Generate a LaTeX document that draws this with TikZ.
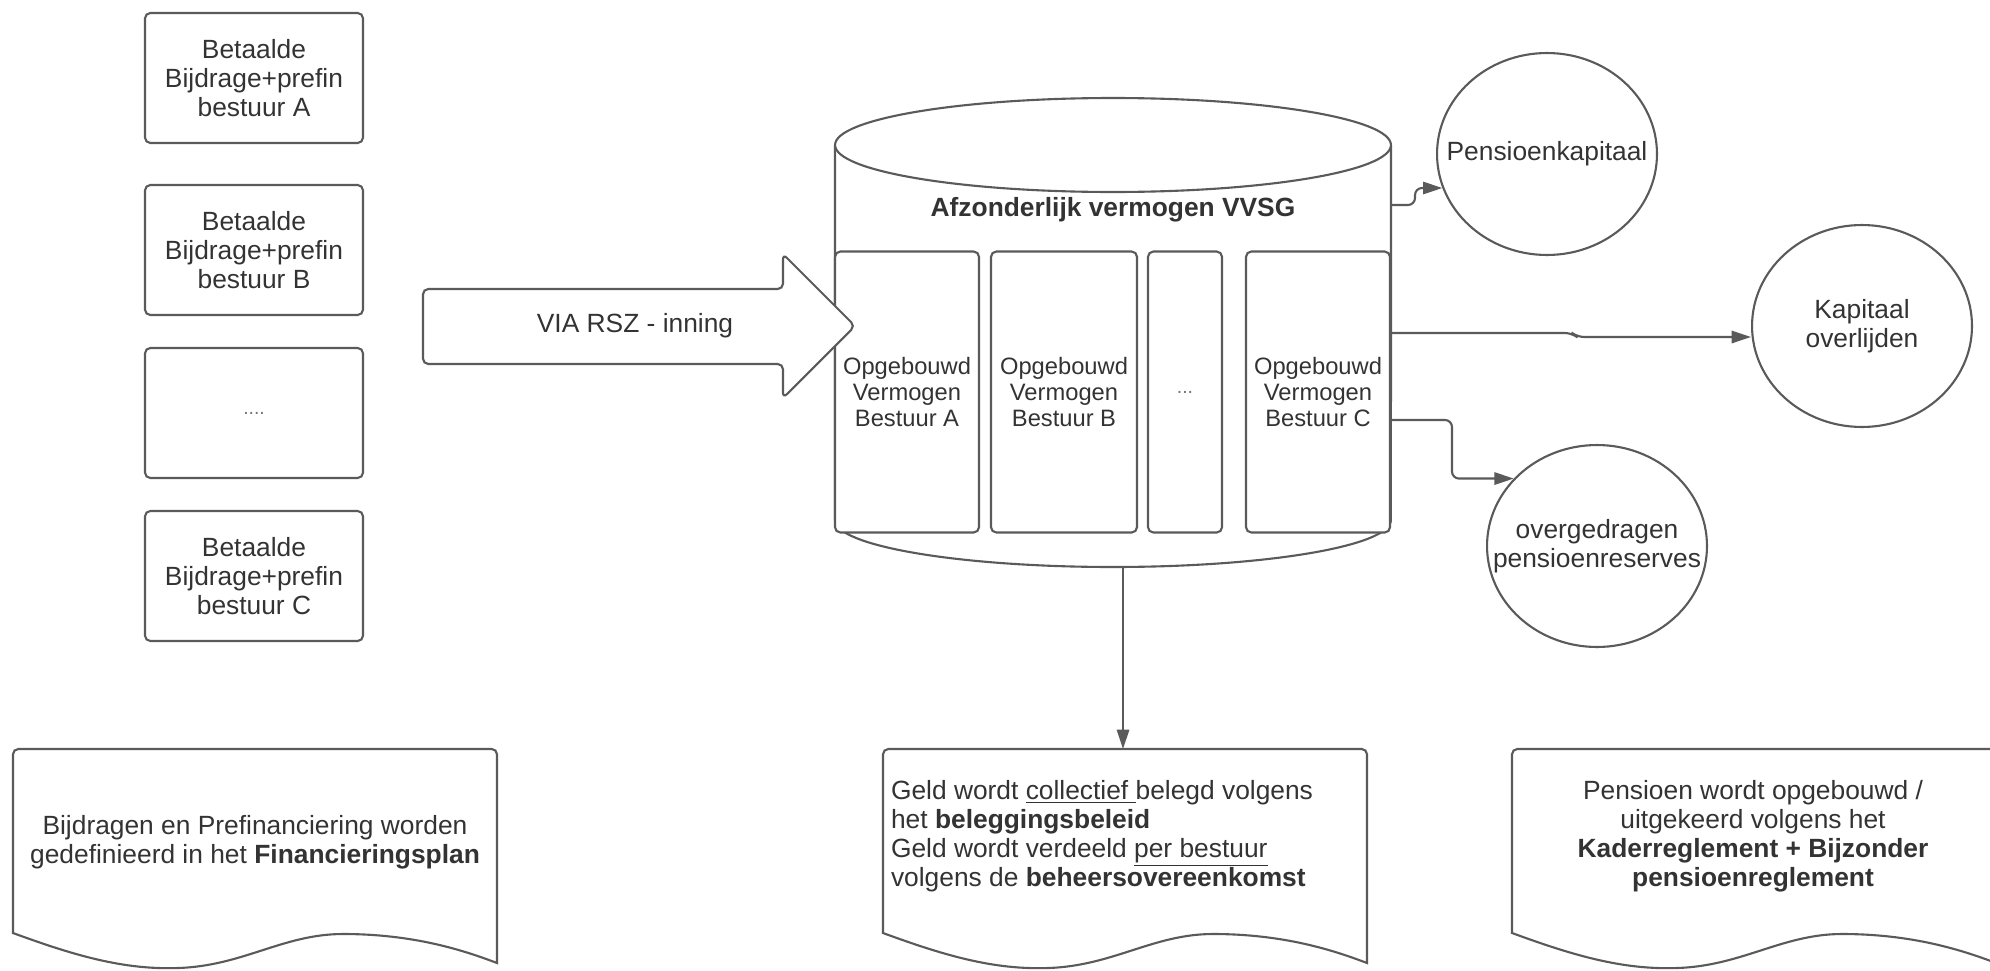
\documentclass[tikz,border=0pt]{standalone}
\usepackage{fontspec}
\setmainfont{Liberation Sans}
\usetikzlibrary{positioning, arrows.meta, shapes.geometric}
\definecolor{lijn}{HTML}{5A5A5A}
\definecolor{tekst}{HTML}{333333}

\begin{document}
\begin{tikzpicture}[
    x=0.02cm, y=-0.02cm,
    >={Triangle[length=11pt, width=7pt]},
    line width=1.2pt,
    every node/.style={text=tekst, font=\fontsize{15}{16.5}\selectfont},
    bijdrage/.style={draw=lijn, rounded corners=3pt, align=center, inner sep=0pt,
                     minimum width=4.36cm, minimum height=2.6cm},
    vak/.style={draw=lijn, fill=white, rounded corners=3pt, align=center, inner sep=0pt,
                minimum height=5.62cm, font=\fontsize{13.5}{14.8}\selectfont},
    rondje/.style={draw=lijn, ellipse, inner sep=0pt, minimum width=4.4cm, minimum height=4.04cm},
    titel/.style={font=\fontsize{15}{16.5}\selectfont\bfseries},
    puntjes/.style={font=\fontsize{11}{12}\selectfont, text=black!55},
    pijl/.style={->, draw=lijn, rounded corners=4pt},
]
\useasboundingbox (0,0) rectangle (1990,970);

% bijdragen per bestuur
\node[bijdrage] (bijdrA) at (254,78) {Betaalde\\Bijdrage+prefin\\bestuur A};
\node[bijdrage] (bijdrB) at (254,250) {Betaalde\\Bijdrage+prefin\\bestuur B};
\node[bijdrage, puntjes] (bijdrX) at (254,413) {....};
\node[bijdrage] (bijdrC) at (254,576) {Betaalde\\Bijdrage+prefin\\bestuur C};

% afzonderlijk vermogen (cilinder)
\draw[lijn, fill=white] (835,145) -- (835,520)
    arc[start angle=180, end angle=360, x radius=5.56cm, y radius=0.94cm] -- (1391,145);
\draw[lijn, fill=white] (1113,145) ellipse[x radius=5.56cm, y radius=0.94cm];
\node[titel] (vvsg) at (1113,210) {Afzonderlijk vermogen VVSG};

\node[vak, minimum width=2.88cm] (vakA) at (907,392) {Opgebouwd\\Vermogen\\Bestuur A};
\node[vak, minimum width=2.92cm] (vakB) at (1064,392) {Opgebouwd\\Vermogen\\Bestuur B};
\node[vak, minimum width=1.48cm, puntjes] (vakX) at (1185,392) {...};
\node[vak, minimum width=2.88cm] (vakC) at (1318,392) {Opgebouwd\\Vermogen\\Bestuur C};

% inning
\draw[lijn, fill=white, rounded corners=3pt] (423,289) -- (783,289) -- (783,254) -- (855,326)
    -- (783,398) -- (783,364) -- (423,364) -- cycle;
\node (rsz) at (635,326) {VIA RSZ - inning};

% uitkeringen
\node[rondje, label={[align=center]center:Pensioenkapitaal}] (pk) at (1547,154) {};
\node[rondje, label={[align=center]center:Kapitaal\\overlijden}] (kap) at (1862,326) {};
\node[rondje, label={[align=center]center:overgedragen\\pensioenreserves}] (over) at (1597,546) {};

\coordinate (uitP) at (1391,205);
\coordinate (uitK) at (1391,333);
\coordinate (uitO) at (1391,420);
\coordinate (onder) at (1123,567);
\coordinate (belegtop) at (1123,749);

\draw[pijl] (uitP) -- ++(24,0) |- (pk.198);
\draw[pijl] (uitK) -- (1572,333) -- (1577,337) -- ([yshift=-0.22cm]kap.west);
\draw[pijl] (uitO) -- ++(61,0) |- (over.141);
\draw[pijl] (onder) -- (belegtop);

% documenten
\foreach \x in {13,883,1512} {
  \draw[lijn, fill=white] (\x,933) [rounded corners=3pt] -- (\x,749) -- (\x+484,749)
      [sharp corners] -- (\x+484,963)
      .. controls (\x+450,950) and (\x+400,934) .. (\x+330,934)
      .. controls (\x+270,934) and (\x+230,966) .. (\x+165,968)
      .. controls (\x+110,970) and (\x+60,955) .. (\x,933) -- cycle;
}
\node[align=center] (plan) at (255,842)
    {Bijdragen en Prefinanciering worden\\gedefinieerd in het \textbf{Financieringsplan}};
\node[align=left, anchor=west, inner sep=0pt] (beleg) at (890,836)
    {Geld wordt \underline{collectief\ }belegd volgens\\het \textbf{beleggingsbeleid}\\
     Geld wordt verdeeld \underline{per bestuur}\\volgens de \textbf{beheersovereenkomst}};
\node[align=center] (regl) at (1753,836)
    {Pensioen wordt opgebouwd /\\uitgekeerd volgens het\\
     \textbf{Kaderreglement + Bijzonder}\\\textbf{pensioenreglement}};

\end{tikzpicture}
\end{document}
